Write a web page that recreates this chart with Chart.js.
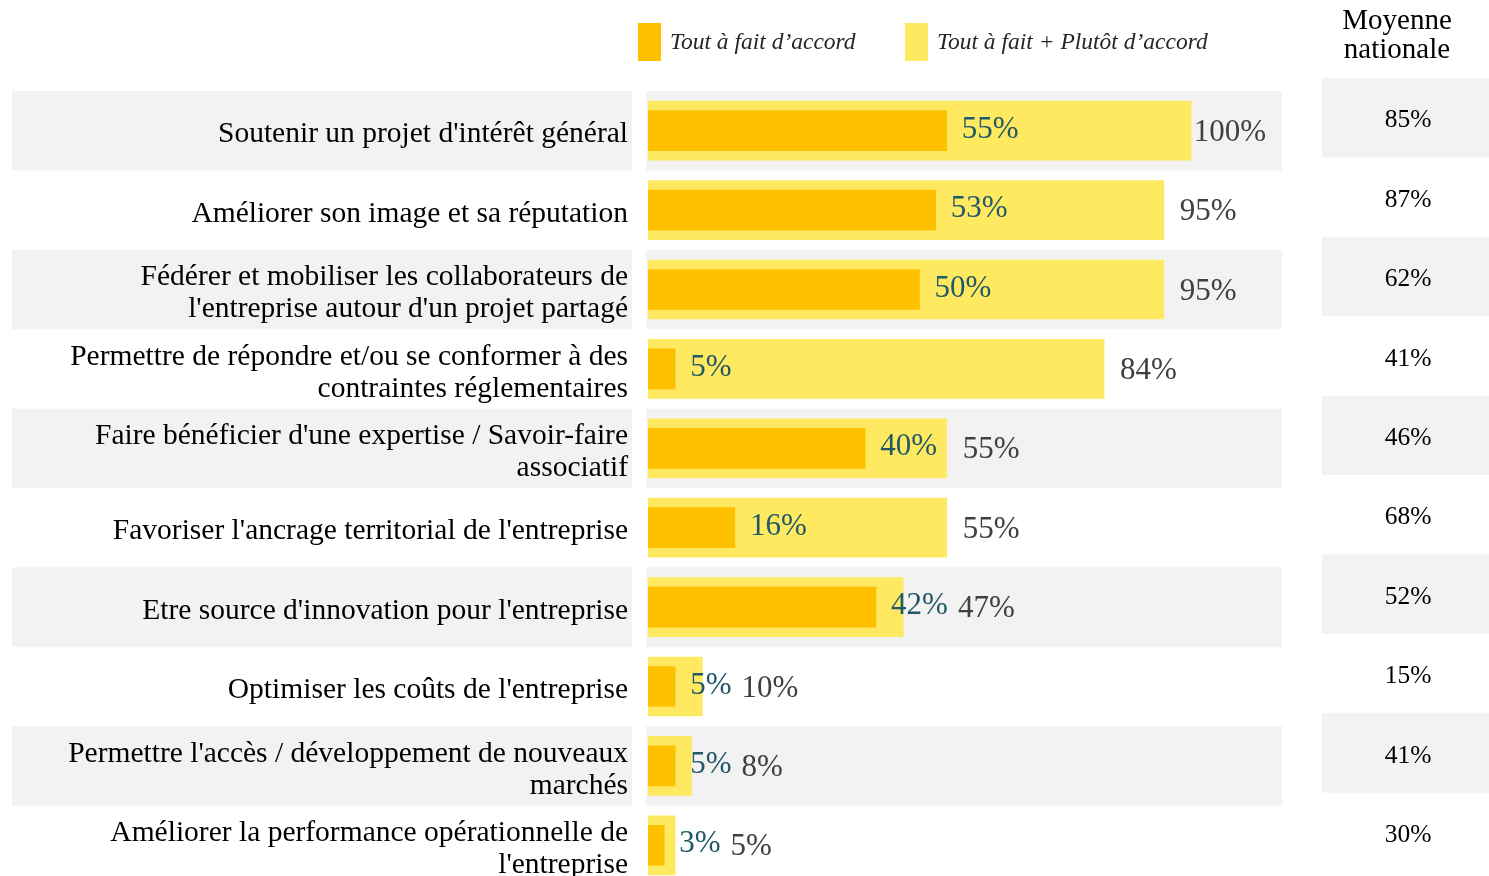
<!DOCTYPE html>
<html><head><meta charset="utf-8">
<script src="https://cdn.jsdelivr.net/npm/chart.js@4/dist/chart.umd.min.js"></script>
<style>html,body{margin:0;padding:0;overflow:hidden;background:#fff}</style>
</head><body>
<canvas id="c" width="1489" height="890"></canvas>
<script>
const categories = [
  "Soutenir un projet d'intérêt général",
  "Améliorer son image et sa réputation",
  ["Fédérer et mobiliser les collaborateurs de", "l'entreprise autour d'un projet partagé"],
  ["Permettre de répondre et/ou se conformer à des", "contraintes réglementaires"],
  ["Faire bénéficier d'une expertise / Savoir-faire", "associatif"],
  "Favoriser l'ancrage territorial de l'entreprise",
  "Etre source d'innovation pour l'entreprise",
  "Optimiser les coûts de l'entreprise",
  ["Permettre l'accès / développement de nouveaux", "marchés"],
  ["Améliorer la performance opérationnelle de", "l'entreprise"]
];
const toutAFait = [55, 53, 50, 5, 40, 16, 42, 5, 5, 3];
const toutPlutot = [100, 95, 95, 84, 55, 55, 47, 10, 8, 5];
const moyenne = [85, 87, 62, 41, 46, 68, 52, 15, 41, 30];
const seriesNames = ["Tout à fait d’accord", "Tout à fait + Plutôt d’accord"];
const headerLines = ["Moyenne", "nationale"];

const SERIF = "'Liberation Serif', 'Times New Roman', serif";
const DARK = '#FFC000', LIGHT = '#FFE961', GRAY = '#F2F2F2';

const decor = {
  id: 'decor',
  beforeDraw(chart) {
    const ctx = chart.ctx, y = chart.scales.y, ca = chart.chartArea;
    ctx.save();
    const n = categories.length;
    const pitch = (y.getPixelForValue(1) - y.getPixelForValue(0));
    for (let i = 0; i < n; i++) {
      const cy = y.getPixelForValue(i);
      if (i % 2 === 0) {
        ctx.fillStyle = GRAY;
        ctx.fillRect(12, cy - pitch / 2, 620, pitch);
        ctx.fillRect(ca.left - 2, cy - pitch / 2, ca.right - ca.left + 2, pitch);
        ctx.fillRect(1322, cy - pitch / 2 - 13, 167, pitch);
      }
    }
    ctx.restore();
  },
  afterDraw(chart) {
    const ctx = chart.ctx, y = chart.scales.y;
    ctx.save();
    ctx.fillStyle = '#000';
    ctx.textAlign = 'center';
    ctx.textBaseline = 'middle';
    ctx.font = '29px ' + SERIF;
    ctx.fillText(headerLines[0], 1397, 21);
    ctx.fillText(headerLines[1], 1397, 50);
    ctx.font = '25.5px ' + SERIF;
    for (let i = 0; i < moyenne.length; i++) {
      const cy = y.getPixelForValue(i) - 10;
      ctx.fillText(moyenne[i] + '%', 1408, cy);
    }
    ctx.textAlign = 'left';
    ctx.font = 'italic 23.5px ' + SERIF;
    ctx.fillStyle = DARK; ctx.fillRect(638, 23, 23, 38);
    ctx.fillStyle = LIGHT; ctx.fillRect(905, 23, 23, 38);
    ctx.fillStyle = '#262626';
    ctx.fillText(seriesNames[0], 670, 43);
    ctx.fillText(seriesNames[1], 937, 43);
    ctx.restore();
  },
  afterDatasetsDraw(chart) {
    const ctx = chart.ctx, ca = chart.chartArea;
    const darkMeta = chart.getDatasetMeta(0), lightMeta = chart.getDatasetMeta(1);
    ctx.save();
    ctx.font = '31px ' + SERIF;
    ctx.textAlign = 'left';
    ctx.textBaseline = 'middle';
    for (let i = 0; i < toutAFait.length; i++) {
      const d = darkMeta.data[i], l = lightMeta.data[i];
      const t1 = toutAFait[i] + '%';
      const x1 = d.x + 15;
      ctx.fillStyle = '#215968';
      ctx.fillText(t1, x1, d.y - 1);
      const end1 = x1 + ctx.measureText(t1).width;
      const t2 = toutPlutot[i] + '%';
      const w2 = ctx.measureText(t2).width;
      let x2 = Math.max(l.x + 16, end1 + 10);
      x2 = Math.min(x2, ca.right - 16 - w2);
      x2 = Math.max(x2, l.x + 2);
      ctx.fillStyle = '#404040';
      ctx.fillText(t2, x2, l.y + 2);
    }
    ctx.restore();
  }
};

new Chart(document.getElementById('c'), {
  type: 'bar',
  data: {
    labels: categories,
    datasets: [
      { label: seriesNames[0], data: toutAFait, backgroundColor: DARK, barThickness: 40, grouped: false, order: 1 },
      { label: seriesNames[1], data: toutPlutot, backgroundColor: LIGHT, barThickness: 59, grouped: false, order: 2 }
    ]
  },
  options: {
    indexAxis: 'y',
    responsive: false,
    devicePixelRatio: 1,
    animation: false,
    layout: { padding: { top: 91, right: 207, bottom: 5, left: 0 } },
    plugins: { legend: { display: false }, tooltip: { enabled: false } },
    scales: {
      x: { display: false, min: 0, max: 116.76 },
      y: {
        afterFit(scale) { scale.width = 648; scale.paddingTop = 0; scale.paddingBottom = 0; },
        grid: { display: false, drawTicks: false },
        border: { display: false },
        ticks: {
          padding: 20,
          labelOffset: 4,
          color: '#000',
          font: { family: SERIF, size: 29.5, lineHeight: '32px' }
        }
      }
    }
  },
  plugins: [decor]
});
</script>
</body></html>
